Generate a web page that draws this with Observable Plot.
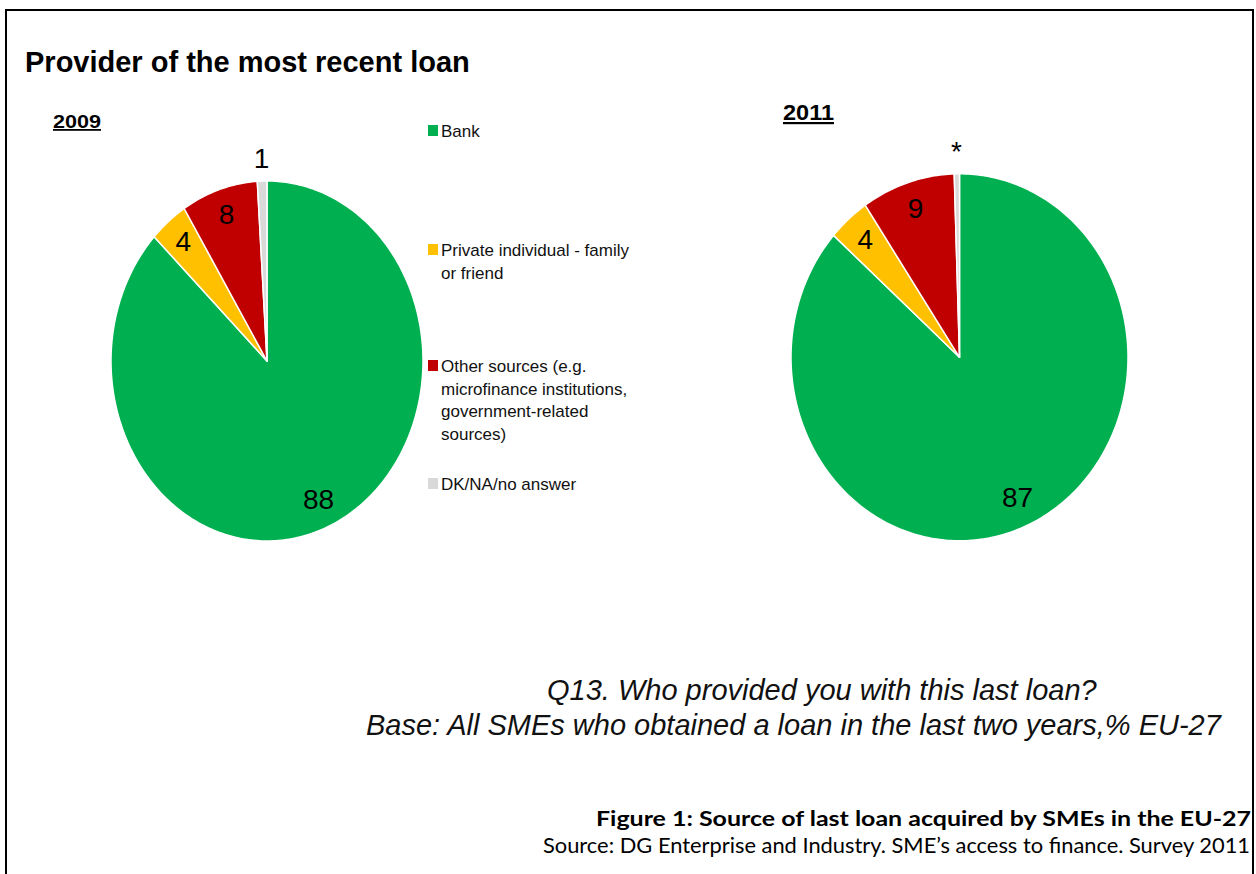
<!DOCTYPE html>
<html>
<head>
<meta charset="utf-8">
<script src="https://cdn.jsdelivr.net/npm/d3@7"></script>
<script src="https://cdn.jsdelivr.net/npm/@observablehq/plot@0.6"></script>
<style>
  html, body { margin: 0; padding: 0; background: #fff; }
  #page { position: relative; width: 1256px; height: 874px; overflow: hidden; background: #fff;
          font-family: "Liberation Sans", Arial, sans-serif; }
  #frame { position: absolute; left: 5px; top: 9px; width: 1249px; height: 900px;
           border: 2px solid #000; box-sizing: border-box; }
  #texts { position: absolute; left: 0; top: 0; }
  .pie { position: absolute; }
</style>
</head>
<body>
<div id="page">
  <div id="frame"></div>
</div>
<script>
// ---------------- data ----------------
const categories = [
  "Bank",
  "Private individual - family or friend",
  "Other sources (e.g. microfinance institutions, government-related sources)",
  "DK/NA/no answer"
];
const legendLines = [
  ["Bank"],
  ["Private individual - family", "or friend"],
  ["Other sources (e.g.", "microfinance institutions,", "government-related", "sources)"],
  ["DK/NA/no answer"]
];
const colors = ["#00b050", "#ffc000", "#c00000", "#d9d9d9"];
const values2009 = [88, 4, 8, 1];
const labels2009 = ["88", "4", "8", "1"];
const values2011 = [87, 4, 9, 0.5];
const labels2011 = ["87", "4", "9", "*"];
const titleText = "Provider of the most recent loan";
const questionText = "Q13. Who provided you with this last loan?";
const baseText = "Base: All SMEs who obtained a loan in the last two years,% EU-27";
const figureText = "Figure 1: Source of last loan acquired by SMEs in the EU-27";
const sourceText = "Source: DG Enterprise and Industry. SME\u2019s access to finance. Survey 2011";

const page = document.getElementById("page");

// ---------------- pies ----------------
function pieData(values, labels) {
  const total = d3.sum(values);
  const arcs = d3.pie().sort(null).value(d => d)(values);
  const poly = [], lab = [];
  arcs.forEach((a, i) => {
    const n = Math.max(2, Math.ceil((a.endAngle - a.startAngle) / (Math.PI / 180)));
    poly.push({cat: categories[i], x: 0, y: 0});
    for (let k = 0; k <= n; k++) {
      const t = a.startAngle + (a.endAngle - a.startAngle) * k / n;
      poly.push({cat: categories[i], x: Math.sin(t), y: Math.cos(t)});
    }
    const mid = (a.startAngle + a.endAngle) / 2;
    const share = a.value / total;
    const r = share < 0.02 ? 1.12 : (share > 0.5 ? 0.84 : 0.85);
    lab.push({text: labels[i], x: r * Math.sin(mid), y: r * Math.cos(mid)});
  });
  return {poly, lab};
}

function drawPie(values, labels, box) {
  const {poly, lab} = pieData(values, labels);
  const chart = Plot.plot({
    width: box.w, height: box.h,
    marginLeft: box.ml, marginRight: box.mr, marginTop: box.mt, marginBottom: box.mb,
    x: {domain: [-1, 1], axis: null},
    y: {domain: [-1, 1], axis: null},
    color: {domain: categories, range: colors},
    style: {background: "transparent", overflow: "visible"},
    marks: [
      Plot.line(poly, {x: "x", y: "y", z: "cat", fill: "cat", stroke: "white",
                       strokeWidth: 1.5, curve: "linear-closed"}),
      Plot.text(lab, {x: "x", y: "y", text: "text", fontSize: 28, fill: "#000",
                      fontFamily: "Liberation Sans, Arial, sans-serif"})
    ]
  });
  chart.classList.add("pie");
  chart.style.left = box.left + "px";
  chart.style.top = box.top + "px";
  page.appendChild(chart);
}

// 2009: centre (266.5, 360.5), rx 156, ry 180
drawPie(values2009, labels2009, {left: 100, top: 130, w: 340, h: 430,
  ml: 10.5, mr: 17.5, mt: 50.5, mb: 19.5});
// 2011: centre (959, 356.3), rx 168.5, ry 183
drawPie(values2011, labels2011, {left: 780, top: 120, w: 360, h: 430,
  ml: 10.5, mr: 12.5, mt: 53.3, mb: 9.7});

// ---------------- texts & legend ----------------
const svg = d3.select(page).append("svg")
  .attr("id", "texts").attr("width", 1256).attr("height", 874)
  .style("font-family", "Liberation Sans, Arial, sans-serif");

svg.append("text").attr("x", 25).attr("y", 72)
  .attr("font-size", 29).attr("font-weight", "bold").text(titleText);

svg.append("text").attr("x", 53).attr("y", 128)
  .attr("font-size", 18).attr("font-weight", "bold")
  .attr("textLength", 48).attr("lengthAdjust", "spacingAndGlyphs")
  .style("text-decoration", "underline").text("2009");
svg.append("text").attr("x", 783).attr("y", 120)
  .attr("font-size", 22).attr("font-weight", "bold")
  .attr("textLength", 51).attr("lengthAdjust", "spacingAndGlyphs")
  .style("text-decoration", "underline").text("2011");

const legendBaselines = [[137], [256, 278.5], [372, 394.5, 417, 440], [490]];
legendLines.forEach((lines, i) => {
  svg.append("rect").attr("x", 428).attr("y", legendBaselines[i][0] - 12)
    .attr("width", 10).attr("height", 11).attr("fill", colors[i]);
  lines.forEach((ln, j) => {
    svg.append("text").attr("x", 441).attr("y", legendBaselines[i][j])
      .attr("font-size", 17).attr("fill", "#111").text(ln);
  });
});

svg.append("text").attr("x", 547).attr("y", 700)
  .attr("font-size", 29).attr("font-style", "italic").attr("fill", "#111").text(questionText);
svg.append("text").attr("x", 366).attr("y", 735)
  .attr("font-size", 29).attr("font-style", "italic").attr("fill", "#111").text(baseText);

svg.append("text").attr("x", 1251).attr("y", 826).attr("text-anchor", "end")
  .attr("font-size", 21).attr("font-weight", "bold")
  .style("font-family", "Lato, 'Open Sans', sans-serif")
  .attr("textLength", 655).attr("lengthAdjust", "spacingAndGlyphs").text(figureText);
svg.append("text").attr("x", 1250).attr("y", 853).attr("text-anchor", "end")
  .attr("font-size", 21)
  .style("font-family", "Lato, 'Open Sans', sans-serif")
  .attr("textLength", 707).attr("lengthAdjust", "spacingAndGlyphs").text(sourceText);
</script>
</body>
</html>
